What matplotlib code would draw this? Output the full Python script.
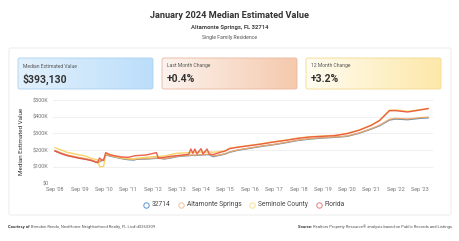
import numpy as np
import pandas as pd
import matplotlib
matplotlib.use("Agg")
import matplotlib.pyplot as plt
import matplotlib.dates as mdates
from matplotlib.patches import FancyBboxPatch
from matplotlib.colors import LinearSegmentedColormap

plt.rcParams['font.family'] = ['Roboto', 'DejaVu Sans']

# ------------------------------------------------------------------------
# DATA (values in $K)
# ------------------------------------------------------------------------
dates = [
    "2008-09", "2008-12", "2009-03", "2009-06", "2009-09", "2009-12", "2010-03", "2010-06",
    "2010-07", "2010-08", "2010-09", "2010-10", "2010-12", "2011-03", "2011-06", "2011-09",
    "2011-12", "2012-01", "2012-06", "2012-11", "2012-12", "2013-03", "2013-06", "2013-09",
    "2013-12", "2014-03", "2014-04", "2014-05", "2014-06", "2014-07", "2014-09", "2014-10",
    "2014-12", "2015-01", "2015-03", "2015-06", "2015-09", "2015-11", "2016-03", "2016-09",
    "2017-03", "2017-09", "2018-03", "2018-09", "2019-03", "2019-09", "2020-03", "2020-09",
    "2021-03", "2021-09", "2022-01", "2022-06", "2022-09", "2023-03", "2023-09", "2024-01",
]
zip_32714 = [
    194, 180, 168, 160, 152, 146, 138, 124,
    130, 136, 138, 170, 164, 156, 148, 142,
    140, 144, 146, 150, 152, 146, 152, 160,
    164, 166, 167, 168, 167, 168, 170, 171,
    172, 172, 160, 168, 176, 186, 198, 210,
    222, 232, 244, 258, 266, 272, 276, 282,
    300, 326, 345, 380, 386, 382, 390, 393,
]
altamonte = [
    196, 182, 170, 162, 154, 148, 140, 126,
    132, 138, 140, 172, 166, 158, 150, 145,
    143, 146, 148, 152, 150, 148, 154, 162,
    166, 168, 169, 170, 169, 170, 172, 173,
    174, 174, 164, 170, 178, 188, 200, 212,
    224, 234, 246, 260, 268, 274, 278, 284,
    302, 328, 348, 384, 390, 386, 394, 397,
]
seminole = [
    214, 200, 186, 178, 170, 164, 150, 140,
    100, 100, 102, 180, 172, 160, 152, 148,
    146, 150, 156, 162, 160, 164, 172, 180,
    182, 184, 185, 186, 186, 187, 188, 188,
    188, 188, 186, 190, 196, 210, 218, 228,
    238, 250, 260, 272, 280, 284, 288, 300,
    320, 350, 378, 440, 440, 432, 442, 450,
]
florida = [
    194, 178, 166, 158, 150, 144, 136, 124,
    152, 140, 140, 184, 172, 164, 158, 156,
    164, 166, 170, 184, 150, 156, 162, 166,
    170, 174, 206, 180, 206, 176, 208, 176,
    206, 176, 172, 184, 194, 208, 216, 226,
    236, 248, 258, 270, 278, 282, 286, 298,
    318, 348, 376, 436, 436, 428, 440, 448,
]
series_names = ["32714", "Altamonte Springs", "Seminole County", "Florida"]
line_colors = ["#4f7fa6", "#f0a86a", "#f7cf5a", "#e9523a"]
legend_colors = ["#6f9fd3", "#f5c7a3", "#fbe3a4", "#e98c8c"]

ytick_vals = [0, 100, 200, 300, 400, 500]
ytick_labels = ["$0", "$100K", "$200K", "$300K", "$400K", "$500K"]
xtick_years = list(range(2008, 2024))

cards = [
    ("Median Estimated Value", "$393,130", "#e2f1fc", "#bcdefa", "#a9d0f1"),
    ("Last Month Change", "+0.4%", "#fcf3ee", "#f5c9ad", "#eab79b"),
    ("12 Month Change", "+3.2%", "#fffcf0", "#fde8aa", "#f3da8f"),
]

# ------------------------------------------------------------------------
# FIGURE
# ------------------------------------------------------------------------
W, H = 460, 241
fig = plt.figure(figsize=(W / 100, H / 100), dpi=100)
bg = fig.add_axes([0, 0, 1, 1], zorder=0)
bg.axis("off")

bg.text(230, 15, "January 2024 Median Estimated Value", ha="center", va="center",
        fontsize=6.6, weight="bold", color="#333333")
bg.text(230, 27, "Altamonte Springs, FL 32714", ha="center", va="center",
        fontsize=4.2, weight="bold", color="#444444")
bg.text(230, 37, "Single Family Residence", ha="center", va="center",
        fontsize=3.7, color="#555555")

panel = FancyBboxPatch((9, 48), 442, 167, boxstyle="round,pad=0,rounding_size=2",
                       fc="white", ec="#e8e8e8", lw=0.6, zorder=0)
bg.add_patch(panel)

grad = np.linspace(0, 1, 64).reshape(1, -1)
for i, (label, value, c0, c1, edge) in enumerate(cards):
    x0 = 18 + i * 144
    y0, w, h = 58, 135, 31
    cmap = LinearSegmentedColormap.from_list("c%d" % i, [c0, c1])
    im = bg.imshow(grad, extent=(x0, x0 + w, y0 + h, y0), cmap=cmap,
                   aspect="auto", zorder=1, interpolation="bilinear")
    box = FancyBboxPatch((x0, y0), w, h, boxstyle="round,pad=0,rounding_size=2",
                         fc="none", ec=edge, lw=0.6, zorder=2)
    bg.add_patch(box)
    im.set_clip_path(box)
    bg.text(x0 + 5, 66, label, ha="left", va="center", fontsize=3.6,
            color="#555555", zorder=3)
    bg.text(x0 + 5, 79, value, ha="left", va="center", fontsize=7.5,
            weight="bold", color="#333333", zorder=3)

bg.text(22, 141, "Median Estimated Value", rotation=90, ha="center", va="center",
        fontsize=4.5, color="#333333")

# legend
leg_x = [146, 181, 252, 319]
for name, col, lx in zip(series_names, legend_colors, leg_x):
    bg.scatter([lx], [205], s=15, facecolor="white", edgecolor=col, lw=0.8, zorder=3)
    bg.text(lx + 6, 205, name, ha="left", va="center", fontsize=4.8, color="#444444")

bg.set_xlim(0, W)
bg.set_ylim(H, 0)

# ------------------------------------------------------------------------
# LINE CHART
# ------------------------------------------------------------------------
ax = fig.add_axes([53 / W, 1 - 183.3 / H, 380 / W, 83.3 / H], zorder=1)
ax.patch.set_alpha(0)
x = pd.to_datetime(dates)
for vals, col in zip([zip_32714, altamonte, seminole, florida], line_colors):
    ax.plot(x, np.array(vals) * 1000, color=col, lw=1.0, alpha=0.9)

ax.set_ylim(0, 500000)
ax.set_yticks([v * 1000 for v in ytick_vals])
ax.set_yticklabels(ytick_labels)
ax.set_xlim(mdates.date2num(pd.Timestamp("2008-08-01")),
            mdates.date2num(pd.Timestamp("2024-03-15")))
ax.set_xticks([mdates.date2num(pd.Timestamp(f"{y}-09-01")) for y in xtick_years])
ax.set_xticklabels([f"Sep '{y % 100:02d}" for y in xtick_years])
ax.tick_params(length=0, labelsize=4, labelcolor="#777777", pad=3)
ax.grid(axis="y", color="#eeeeee", lw=0.6)
ax.set_axisbelow(True)
for s in ax.spines.values():
    s.set_visible(False)

# ------------------------------------------------------------------------
# FOOTER
# ------------------------------------------------------------------------
fig.canvas.draw()
r = fig.canvas.get_renderer()
inv = bg.transData.inverted()

t1 = bg.text(8, 227, "Courtesy of ", ha="left", va="center", fontsize=3,
             weight="bold", color="#333333")
bb = t1.get_window_extent(r)
xe = inv.transform((bb.x1, bb.y0))[0]
bg.text(xe, 227, "Brendon Rendo, NextHome Neighborhood Realty, FL Lic# d3263309",
        ha="left", va="center", fontsize=3, color="#555555")

t2 = bg.text(452, 227, "Realtors Property Resource\u00ae analysis based on Public Records and Listings",
             ha="right", va="center", fontsize=3, color="#555555")
bb = t2.get_window_extent(r)
xs = inv.transform((bb.x0, bb.y0))[0]
bg.text(xs, 227, "Source: ", ha="right", va="center", fontsize=3,
        weight="bold", color="#333333")

fig.savefig("out.png", dpi=100)
